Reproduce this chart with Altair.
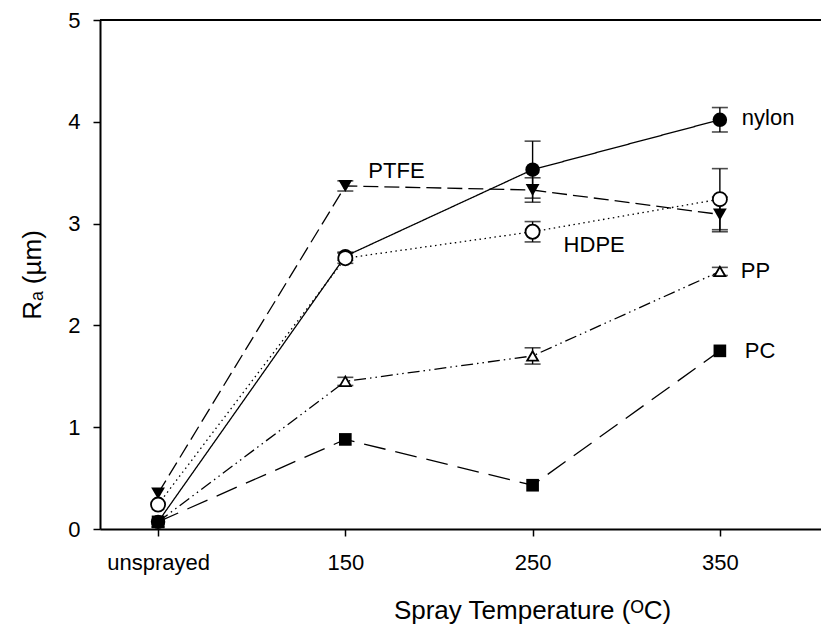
import altair as alt
import pandas as pd

categories = ["unsprayed", "150", "250", "350"]
series = ["nylon", "PTFE", "HDPE", "PP", "PC"]
nylon = [0.07, 2.68, 3.53, 4.02]
nylon_err = [0.0, 0.04, 0.28, 0.12]
ptfe = [0.35, 3.37, 3.33, 3.09]
ptfe_err = [0.0, 0.05, 0.12, 0.17]
hdpe = [0.24, 2.66, 2.92, 3.24]
hdpe_err = [0.0, 0.05, 0.10, 0.30]
pp = [0.07, 1.45, 1.70, 2.53]
pp_err = [0.0, 0.04, 0.08, 0.04]
pc = [0.07, 0.88, 0.43, 1.75]
pc_err = [0.0, 0.0, 0.0, 0.0]

values = {"nylon": nylon, "PTFE": ptfe, "HDPE": hdpe, "PP": pp, "PC": pc}
errors = {"nylon": nylon_err, "PTFE": ptfe_err, "HDPE": hdpe_err, "PP": pp_err, "PC": pc_err}
styles = {
    "nylon": dict(shape="circle", filled=True, size=210, dash=[1, 0]),
    "PTFE": dict(shape="triangle-down", filled=True, size=190, dash=[15, 6]),
    "HDPE": dict(shape="circle", filled=False, size=200, dash=[1.5, 3.5]),
    "PP": dict(shape="triangle-up", filled=False, size=120, dash=[12, 4, 1.5, 4, 1.5, 4]),
    "PC": dict(shape="square", filled=True, size=160, dash=[22, 10]),
}
# label anchor: (category index, dx, dy)
label_pos = {
    "nylon": (3, 22, -2),
    "PTFE": (1, 23, -15),
    "HDPE": (2, 31, 13),
    "PP": (3, 21, 0),
    "PC": (3, 25, 0),
}

rows = []
for s in series:
    for i, c in enumerate(categories):
        rows.append({"series": s, "xi": i, "cat": c, "v": values[s][i], "err": errors[s][i],
                     "lo": values[s][i] - errors[s][i], "hi": values[s][i] + errors[s][i]})
df = pd.DataFrame(rows)

W, H = 721, 509
label_expr = "datum.value == 0 ? 'unsprayed' : datum.value == 1 ? '150' : datum.value == 2 ? '250' : '350'"
xscale = alt.Scale(domain=[-0.31, 3.54], nice=False, zero=False)
yscale = alt.Scale(domain=[0, 5], nice=False)
xenc = alt.X("xi:Q", scale=xscale,
             axis=alt.Axis(values=[0, 1, 2, 3], labelExpr=label_expr, grid=False,
                           title="Spray Temperature (ᴼC)", titleX=432, titleY=81,
                           titleAlign="center", titleBaseline="middle",
                           labelPadding=16, tickSize=7))
yenc = alt.Y("v:Q", scale=yscale,
             axis=alt.Axis(values=[0, 1, 2, 3, 4, 5], format="d", grid=False, title="Rₐ (µm)",
                           titleX=-68, titleY=H / 2, titleAlign="center", titleBaseline="middle",
                           labelPadding=13, tickSize=7))

layers = []
frame = alt.Chart(pd.DataFrame({"a": [0]})).mark_rule(color="black", strokeWidth=2).encode(
    x=alt.value(0), x2=alt.value(W), y=alt.value(0))
layers.append(frame)
for s in series:
    st = styles[s]
    d = df[df.series == s]
    de = d[d.err > 0]
    base = alt.Chart(d)
    if len(de):
        eb = alt.Chart(de)
        layers.append(eb.mark_rule(color="black", strokeWidth=1.4).encode(
            x=alt.X("xi:Q", scale=xscale), y=alt.Y("lo:Q", scale=yscale), y2="hi:Q"))
        for col in ["lo", "hi"]:
            layers.append(eb.mark_tick(color="black", orient="horizontal", size=16, thickness=1.6).encode(
                x=alt.X("xi:Q", scale=xscale), y=alt.Y(f"{col}:Q", scale=yscale)))
    layers.append(base.mark_line(color="black", strokeWidth=1.3, strokeDash=st["dash"]).encode(
        x=xenc, y=yenc))
    layers.append(base.mark_point(shape=st["shape"], filled=st["filled"], size=st["size"],
                                  color="black", fill="black" if st["filled"] else "white",
                                  strokeWidth=1.8, opacity=1).encode(
        x=alt.X("xi:Q", scale=xscale), y=alt.Y("v:Q", scale=yscale)))
    ci, dx, dy = label_pos[s]
    ld = d[d.xi == ci]
    layers.append(alt.Chart(ld).mark_text(text=s, align="left", baseline="middle", dx=dx, dy=dy,
                                          font="Liberation Sans", fontSize=22, color="black").encode(
        x=alt.X("xi:Q", scale=xscale), y=alt.Y("v:Q", scale=yscale)))

chart = alt.layer(*layers).properties(
    width=W, height=H,
    autosize=alt.AutoSizeParams(type="none"),
    padding={"left": 92, "top": 12, "right": 0, "bottom": 100},
).configure_view(strokeWidth=0).configure_axis(
    domainColor="black", domainWidth=2, tickColor="black", tickWidth=1.5,
    labelFont="Liberation Sans", labelFontSize=22, labelColor="black",
    titleFont="Liberation Sans", titleFontSize=26, titleColor="black", titleFontWeight="normal",
)

chart.save("out.html", embed_options={"renderer": "svg", "actions": False})
